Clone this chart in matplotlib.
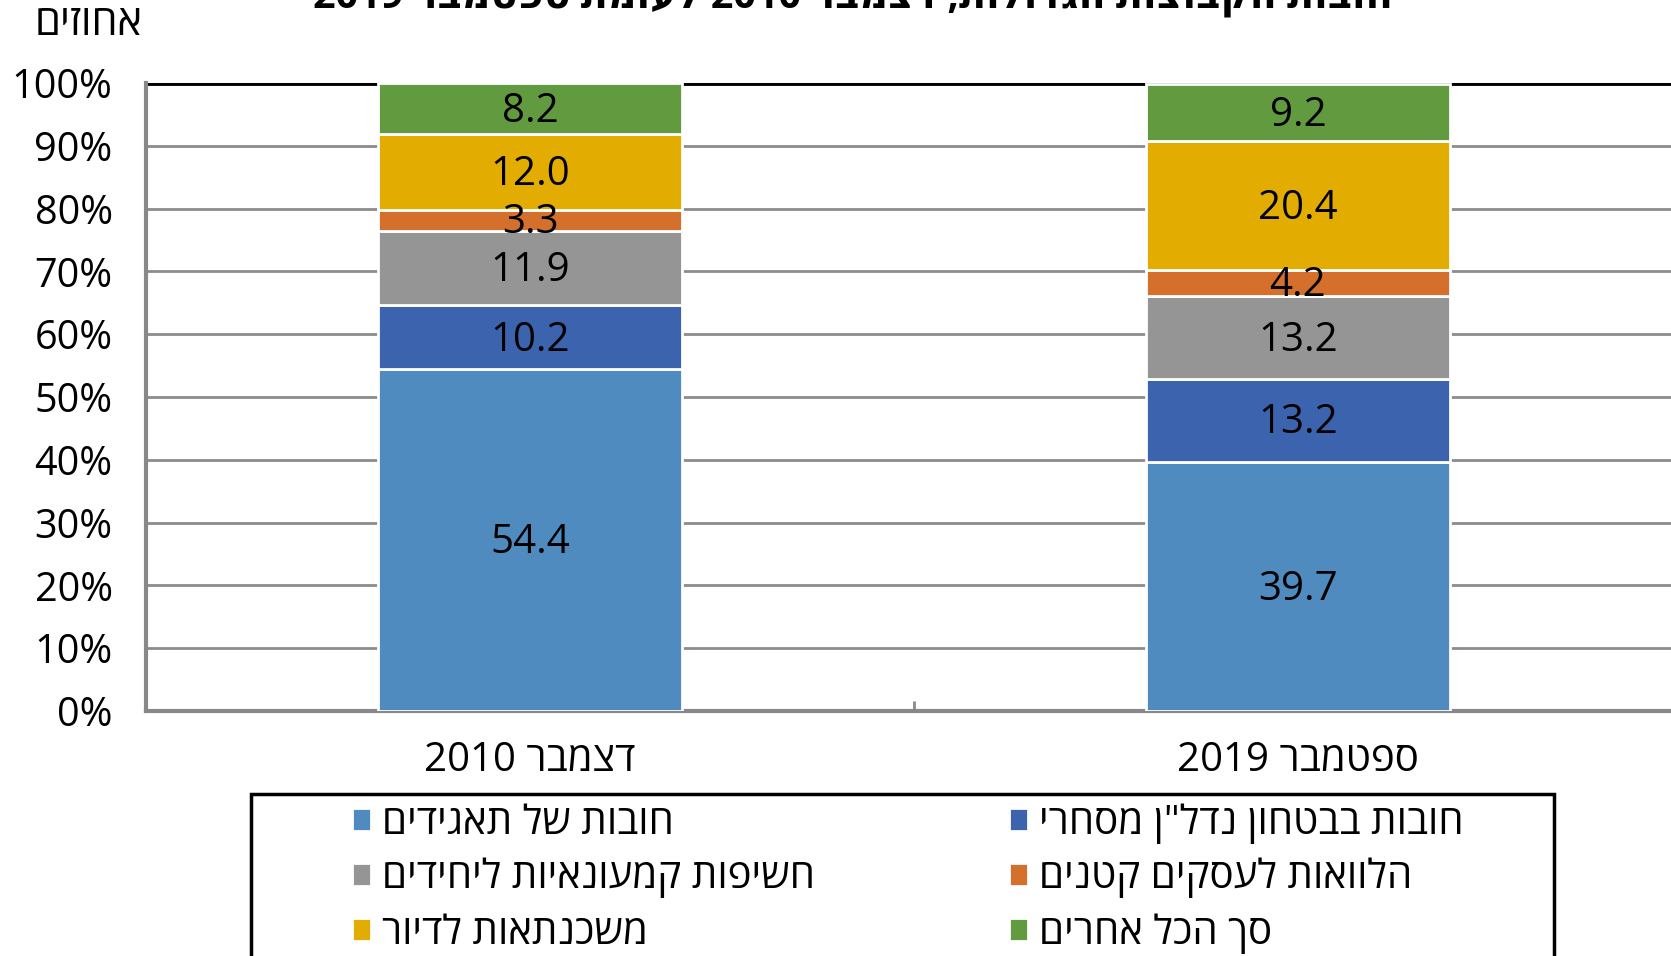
import re
import matplotlib
matplotlib.use("Agg")
import matplotlib.pyplot as plt
import matplotlib.patches as mpatches
import matplotlib.transforms as mtransforms
import numpy as np

plt.rcParams['font.family'] = ['Open Sans', 'DejaVu Sans']

def rtl(s):
    r = s[::-1]
    return re.sub(r'[0-9.%]+', lambda m: m.group(0)[::-1], r)

# ---- data ----
categories = ["דצמבר 2010", "ספטמבר 2019"]
series_names = ["חובות של תאגידים", "חובות בבטחון נדל\"ן מסחרי", "חשיפות קמעונאיות ליחידים",
                "הלוואות לעסקים קטנים", "משכנתאות לדיור", "סך הכל אחרים"]
values_2010 = [54.4, 10.2, 11.9, 3.3, 12.0, 8.2]
values_2019 = [39.7, 13.2, 13.2, 4.2, 20.4, 9.2]
colors = ["#4F8BBE", "#3C64AE", "#959595", "#D4702C", "#E2AC00", "#629A40"]
yticks = [0, 10, 20, 30, 40, 50, 60, 70, 80, 90, 100]
title = "חובות הקבוצות הגדולות, דצמבר 2010 לעומת ספטמבר 2019"
ylabel = "אחוזים"

W, H = 1671, 956
fig = plt.figure(figsize=(W/100, H/100), dpi=100)
ax = fig.add_axes([146/W, (H-711)/H, (1682-146)/W, (711-83)/H])

label_tr = ax.transData + mtransforms.ScaledTranslation(0, -3/100, fig.dpi_scale_trans)

data = np.array([values_2010, values_2019])
x = np.arange(len(categories))
bottom = np.zeros(len(categories))
handles = []
for i, name in enumerate(series_names):
    vals = data[:, i]
    bars = ax.bar(x, vals, bottom=bottom, width=0.397, color=colors[i],
                  edgecolor='white', linewidth=2, zorder=3)
    handles.append(bars)
    for xi, v, b in zip(x, vals, bottom):
        ax.text(xi, b + v/2, f"{v:.1f}", ha='center', va='center',
                fontsize=29, color='black', zorder=4, transform=label_tr)
    bottom += vals

ax.set_xlim(-0.5, 1.5)
ax.set_ylim(0, 100)
ax.set_yticks(yticks)
ax.set_yticklabels([f"{t}%" for t in yticks], fontsize=28.5)
ax.set_xticks(x)
ax.set_xticklabels([rtl(c) for c in categories], fontsize=29)
ax.set_xticks([0.5], minor=True)
ax.tick_params(axis='x', which='major', length=0, pad=21)
ax.tick_params(axis='x', which='minor', direction='in', length=7, width=2, color='#888888')
ax.tick_params(axis='y', length=0, pad=24)

for t in yticks[1:-1]:
    ax.axhline(t, color='#8C8C8C', linewidth=2, zorder=1)
ax.axhline(100, color='black', linewidth=3.5, zorder=1)

for s in ['top', 'right']:
    ax.spines[s].set_visible(False)
for s in ['left', 'bottom']:
    ax.spines[s].set_color('#888888')
    ax.spines[s].set_linewidth(3)

fig.text(35/W, (H-24)/H, rtl(ylabel), fontsize=30, ha='left', va='center')
fig.text(853/W, (H-9)/H, rtl(title), fontsize=28.5, fontweight='bold', ha='center', va='baseline')

order = [0, 2, 4, 1, 3, 5]
leg = fig.legend([handles[i] for i in order], [rtl(series_names[i]) for i in order],
                 ncol=2, frameon=False, loc='upper left',
                 bbox_to_anchor=(352/W, (H-803)/H), fontsize=29,
                 handlelength=0.48, handleheight=0.5, handletextpad=0.27,
                 labelspacing=0.36, columnspacing=4.8, borderaxespad=0, borderpad=0)

fig.patches.append(mpatches.Rectangle((251/W, -0.05), (1554-251)/W, (H-794)/H + 0.05,
                                      transform=fig.transFigure, fill=False,
                                      edgecolor='black', linewidth=2.5))

fig.savefig("out.png", dpi=100)
